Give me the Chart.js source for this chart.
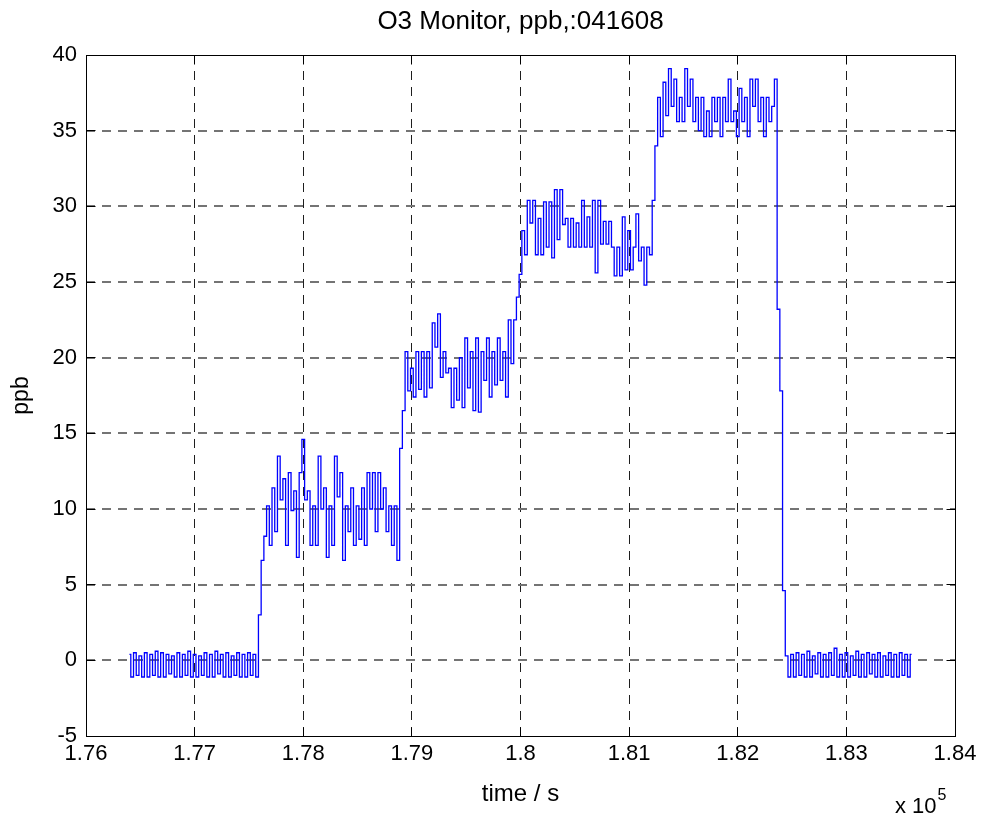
<!DOCTYPE html>
<html>
<head>
<meta charset="utf-8">
<title>O3 Monitor, ppb,:041608</title>
<script src="https://cdn.jsdelivr.net/npm/chart.js@4.4.1/dist/chart.umd.min.js"></script>
<style>
  html, body { margin: 0; padding: 0; background: #ffffff; }
  canvas { display: block; }
</style>
</head>
<body>
<canvas id="o3" width="986" height="818"></canvas>
<script>
// Ozone monitor record of 16 Apr 2008: one reading every 25 s, starting at t = 176400 s.
const startTime = 176400;
const sampleStep = 25;

// Zero-air baseline before the first span step (ppb)
const baselineBefore = [
  0.4, -1.1, 0.5, -1.0, 0.3, -1.1, 0.5, -1.1, 0.4, -1.0, 0.6, -1.1,
  0.5, -1.1, 0.4, -0.9, 0.3, -1.1, 0.5, -1.1, 0.4, -1.0, 0.6, -1.1,
  0.4, -1.1, 0.3, -1.0, 0.5, -1.1, 0.4, -1.1, 0.6, -0.9, 0.4, -1.1,
  0.5, -1.1, 0.3, -1.0, 0.5, -1.1, 0.4, -1.1, 0.5, -1.0, 0.4, -1.1
];
// Rise to the ~10 ppb step
const stepTen = [
  3.0, 6.6, 8.2, 10.2, 7.6, 11.4, 8.5, 13.5, 10.6, 12.0, 7.6, 12.4,
  9.9, 11.2, 6.8, 12.4, 14.6, 10.6, 11.2, 7.6, 10.2, 7.6, 13.5, 10.0,
  11.4, 6.8, 10.2, 7.6, 13.5, 10.8, 12.4, 6.6, 10.2, 8.5, 11.4, 7.6,
  10.2, 8.0, 11.4, 7.6, 12.4, 10.0, 12.4, 8.5, 12.4, 10.0, 11.4, 8.5,
  10.2, 7.6, 10.2, 6.6
];
// Rise to the ~20 ppb step
const stepTwenty = [
  14.0, 16.5, 20.4, 17.8, 19.3, 17.4, 20.4, 17.9, 20.4, 17.4, 20.4, 18.0,
  22.3, 20.7, 22.9, 18.7, 20.4, 19.0, 19.3, 16.7, 19.3, 17.2, 20.0, 16.7,
  21.3, 18.0, 20.4, 16.5, 21.3, 16.4, 20.4, 18.5, 21.3, 17.4, 20.4, 18.2,
  21.3, 18.5, 20.4, 17.4, 22.5, 19.6, 22.5
];
// Rise to the ~28 ppb step
const stepTwentyEight = [
  24.0, 25.5, 28.4, 26.8, 30.4, 28.9, 30.4, 26.8, 29.2, 26.8, 30.3, 27.3,
  30.3, 26.6, 31.1, 27.8, 31.1, 28.8, 29.2, 27.3, 29.2, 27.3, 28.9, 27.3,
  30.4, 27.3, 29.3, 27.3, 30.4, 25.6, 30.4, 27.5, 29.0, 27.5, 29.0, 27.3,
  25.4, 27.3, 25.4, 29.3, 25.8, 28.4, 25.8, 27.3, 29.5, 26.4, 27.3, 24.8,
  27.3, 26.8
];
// Rise to the ~37 ppb step and the fall back to zero
const stepThirtySeven = [
  30.4, 34.0, 37.2, 34.6, 38.2, 36.0, 39.1, 36.6, 38.4, 35.6, 37.2, 35.6,
  39.1, 36.6, 38.4, 35.6, 37.2, 35.0, 37.2, 34.6, 36.3, 34.6, 37.2, 35.6,
  37.2, 34.6, 37.2, 35.6, 38.4, 35.6, 36.3, 34.6, 37.8, 35.6, 37.2, 34.6,
  38.4, 36.6, 38.4, 35.6, 37.2, 34.6, 37.2, 35.6, 36.6, 38.4, 23.2, 17.8,
  4.6
];
// Zero-air baseline after the span steps
const baselineAfter = [
  0.3, -1.1, 0.4, -1.1, 0.5, -1.0, 0.4, -1.1, 0.6, -1.1, 0.3, -0.9,
  0.5, -1.1, 0.4, -1.1, 0.5, -1.0, 0.8, -1.1, 0.4, -1.1, 0.5, -1.1,
  0.3, -1.0, 0.6, -1.1, 0.4, -1.1, 0.5, -0.9, 0.4, -1.1, 0.5, -1.1,
  0.3, -1.0, 0.5, -1.1, 0.4, -1.1, 0.5, -1.0, 0.4, -1.1, 0.4
];

// Axis ticks
const timeTicks = [176000, 177000, 178000, 179000, 180000, 181000, 182000, 183000, 184000];
const ppbTicks = [-5, 0, 5, 10, 15, 20, 25, 30, 35, 40];

const ppbSeries = [].concat(baselineBefore, stepTen, stepTwenty, stepTwentyEight, stepThirtySeven, baselineAfter);
const points = ppbSeries.map((v, i) => ({ x: startTime + i * sampleStep, y: v }));

const FONT = "'Liberation Sans', Arial, Helvetica, sans-serif";
const X_MIN = timeTicks[0], X_MAX = timeTicks[timeTicks.length - 1];
const Y_MIN = ppbTicks[0], Y_MAX = ppbTicks[ppbTicks.length - 1];
const TICK_LEN = 9;

function align1(p) { return Math.round(p - 0.5) + 0.5; }

// Axes box with inward ticks on all four sides, plus the x10^5 exponent label
const boxedAxes = {
  id: 'boxedAxes',
  beforeDraw(chart) {
    const ctx = chart.ctx;
    ctx.save();
    ctx.fillStyle = '#ffffff';
    ctx.fillRect(0, 0, chart.width, chart.height);
    ctx.restore();
  },
  afterDraw(chart) {
    const ctx = chart.ctx;
    const { left, right, top, bottom } = chart.chartArea;
    const xs = chart.scales.x, ys = chart.scales.y;
    const L = align1(left), R = align1(right), T = align1(top), B = align1(bottom);
    ctx.save();
    ctx.strokeStyle = '#000000';
    ctx.lineWidth = 1;
    ctx.setLineDash([]);
    ctx.beginPath();
    xs.ticks.forEach(t => {
      const p = align1(xs.getPixelForValue(t.value));
      ctx.moveTo(p, B); ctx.lineTo(p, B - TICK_LEN);
      ctx.moveTo(p, T); ctx.lineTo(p, T + TICK_LEN);
    });
    ys.ticks.forEach(t => {
      const p = align1(ys.getPixelForValue(t.value));
      ctx.moveTo(L, p); ctx.lineTo(L + TICK_LEN, p);
      ctx.moveTo(R, p); ctx.lineTo(R - TICK_LEN, p);
    });
    ctx.stroke();
    ctx.strokeRect(L, T, R - L, B - T);

    ctx.fillStyle = '#000000';
    ctx.textAlign = 'left';
    ctx.textBaseline = 'alphabetic';
    ctx.font = '22px ' + FONT;
    const base = 'x 10';
    ctx.fillText(base, 895, 813);
    const w = ctx.measureText(base).width;
    ctx.font = '16px ' + FONT;
    ctx.fillText('5', 895 + w + 1, 800);
    ctx.restore();
  }
};

new Chart(document.getElementById('o3'), {
  type: 'line',
  data: {
    datasets: [{
      data: points,
      borderColor: '#0000ff',
      borderWidth: 1.3,
      pointRadius: 0,
      pointHoverRadius: 0,
      stepped: 'middle',
      fill: false
    }]
  },
  options: {
    responsive: false,
    animation: false,
    devicePixelRatio: 1,
    parsing: false,
    normalized: true,
    events: [],
    layout: { padding: { left: 0, right: 31, top: 0, bottom: 0 } },
    plugins: {
      legend: { display: false },
      tooltip: { enabled: false },
      title: {
        display: true,
        text: 'O3 Monitor, ppb,:041608',
        fullSize: false,
        color: '#000000',
        font: { family: FONT, size: 26, weight: 'normal', lineHeight: 1.2 },
        padding: { top: 6.3, bottom: 17.5 }
      }
    },
    scales: {
      x: {
        type: 'linear',
        min: X_MIN,
        max: X_MAX,
        afterBuildTicks: (scale) => { scale.ticks = timeTicks.map(v => ({ value: v })); },
        afterFit: (scale) => { scale.height = 82; },
        ticks: {
          autoSkip: false,
          maxRotation: 0,
          padding: 5,
          color: '#000000',
          font: { family: FONT, size: 22 },
          callback: (v) => String(parseFloat((v / 100000).toFixed(2)))
        },
        grid: {
          drawTicks: false,
          lineWidth: 1,
          color: (c) => (c.tick && (c.tick.value === X_MIN || c.tick.value === X_MAX)) ? 'rgba(0,0,0,0)' : '#1e1e1e'
        },
        border: { display: false, dash: [9, 7] },
        title: {
          display: true,
          text: 'time / s',
          color: '#000000',
          font: { family: FONT, size: 24, lineHeight: 1.2 },
          padding: { top: 0, bottom: 9 }
        }
      },
      y: {
        type: 'linear',
        min: Y_MIN,
        max: Y_MAX,
        afterBuildTicks: (scale) => { scale.ticks = ppbTicks.map(v => ({ value: v })); },
        afterFit: (scale) => { scale.width = 86; },
        ticks: {
          autoSkip: false,
          padding: 9,
          color: '#000000',
          font: { family: FONT, size: 22 },
          callback: (v) => String(v)
        },
        grid: {
          drawTicks: false,
          lineWidth: 2,
          color: (c) => (c.tick && (c.tick.value === Y_MIN || c.tick.value === Y_MAX)) ? 'rgba(0,0,0,0)' : '#747474'
        },
        border: { display: false, dash: [9, 7] },
        title: {
          display: true,
          text: 'ppb',
          color: '#000000',
          font: { family: FONT, size: 23, lineHeight: 1.2 },
          padding: { top: 8.2, bottom: 0 }
        }
      }
    }
  },
  plugins: [boxedAxes]
});
</script>
</body>
</html>
